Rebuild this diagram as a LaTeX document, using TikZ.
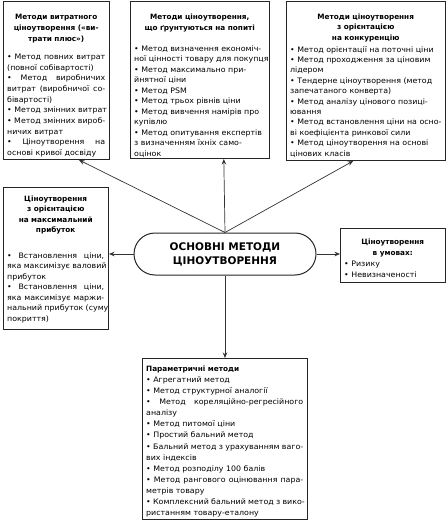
\documentclass[tikz,border=0pt]{standalone}
\usepackage{fontspec}
\setmainfont{DejaVu Sans}[FakeStretch=1.05]
\newfontfamily\hdfont{DejaVu Sans}
\usetikzlibrary{arrows.meta,shapes.misc,calc}
\newcommand\myj[1]{\par\hbox to\hsize{\spaceskip=0.3em plus 20em\xspaceskip=\spaceskip\rule{0pt}{7pt}#1}}
\newcommand\myl[1]{\par\hbox to\hsize{\rule{0pt}{7pt}#1\hss}}
\newcommand\myc[1]{\par\hbox to\hsize{\hss\rule{0pt}{7pt}#1\hss}}
\newcommand\myt[1]{{\hdfont\bfseries\fontsize{7.3}{10}\selectfont #1}}
\begin{document}
\begin{tikzpicture}[x=1pt,y=-1pt,
  frame/.style={draw=black!85, line width=1pt, fill=white, inner sep=0pt, anchor=north west},
  txt/.style={anchor=north west, inner sep=0pt,
    font=\fontsize{7.5}{#1}\selectfont,
    execute at begin node={\parindent=0pt\parskip=0pt\relax}},
  conn/.style={draw=black!80, line width=0.7pt, -{Stealth[length=5.5pt,width=4.5pt]}},
  core/.style={draw=black!85, line width=1pt, rounded rectangle, minimum width=186pt,
    minimum height=42pt, align=center, inner sep=2pt,
    font=\hdfont\bfseries\fontsize{10.5}{14}\selectfont}
]
\useasboundingbox (0,0) rectangle (447,521);

% frames
\node[frame, minimum width=106pt, minimum height=158pt] (b1) at (3,1) {};
\node[frame, minimum width=139pt, minimum height=157pt] (b2) at (130,1) {};
\node[frame, minimum width=159pt, minimum height=159pt] (b3) at (286,1) {};
\node[frame, minimum width=105pt, minimum height=142pt] (lb) at (3,187) {};
\node[frame, minimum width=105pt, minimum height=54pt] (rb) at (340,228) {};
\node[frame, minimum width=165pt, minimum height=161pt] (bb) at (142,358) {};
\node[core] (c) at (225,254) {ОСНОВНІ МЕТОДИ\\ЦІНОУТВОРЕННЯ};

% texts
\node[txt=10.7, text width=98pt] (t1) at (7,9) {%
\myc{\myt{Методи витратного}}
\myc{\myt{ціноутворення («ви-}}
\myc{\myt{трати плюс»)}}
\vspace{7.4pt}
\myj{• Метод повних витрат}
\myl{(повної собівартості)}
\myj{• Метод виробничих}
\myj{витрат (виробничої со-}
\myl{бівартості)}
\myl{• Метод змінних витрат}
\myj{• Метод змінних вироб-}
\myl{ничих витрат}
\myj{• Ціноутворення на}
\myl{основі кривої досвіду}};

\node[txt=10.5, text width=131pt] (t2) at (134,9) {%
\myc{\myt{Методи ціноутворення,}}
\vspace{0.5pt}
\myc{\myt{що ґрунтуються на попиті}}
\vspace{10pt}
\myl{• Метод визначення економіч-}
\myl{ної цінності товару для покупця}
\myl{• Метод максимально при-}
\myl{йнятної ціни}
\myl{• Метод PSM}
\myl{• Метод трьох рівнів ціни}
\myl{• Метод вивчення намірів про}
\myl{купівлю}
\myl{• Метод опитування експертів}
\myl{з визначенням їхніх само-}
\myl{оцінок}};

\node[txt=10.4, text width=151pt] (t3) at (290,9) {%
\myc{\myt{Методи ціноутворення}}
\myc{\myt{з орієнтацією}}
\myc{\myt{на конкуренцію}}
\vspace{1.3pt}
\myl{• Метод орієнтації на поточні ціни}
\myl{• Метод проходження за ціновим}
\myl{лідером}
\myl{• Тендерне ціноутворення (метод}
\myl{запечатаного конверта)}
\myl{• Метод аналізу цінового позиці-}
\myl{ювання}
\myl{• Метод встановлення ціни на осно-}
\myl{ві коефіцієнта ринкової сили}
\myl{• Метод ціноутворення на основі}
\myl{цінових класів}};

\node[txt=10.4, text width=97pt] (tl) at (7,191) {%
\myc{\myt{Ціноутворення}}
\myc{\myt{з орієнтацією}}
\myc{\myt{на максимальний}}
\myc{\myt{прибуток}}
\vspace{15.4pt}
\myj{• Встановлення ціни,}
\myj{яка максимізує валовий}
\myl{прибуток}
\myj{• Встановлення ціни,}
\myj{яка максимізує маржи-}
\myj{нальний прибуток (суму}
\myl{покриття)}};

\node[txt=11, text width=97pt] (tr) at (344,233) {%
\myc{\myt{Ціноутворення}}
\myc{\myt{в умовах:}}
\myl{• Ризику}
\myl{• Невизначеності}};

\node[txt=11.1, text width=157pt] (tb) at (146,360) {%
\myl{\myt{Параметричні методи}}
\myl{• Агрегатний метод}
\myl{• Метод структурної аналогії}
\myj{• Метод кореляційно-регресійного}
\myl{аналізу}
\myl{• Метод питомої ціни}
\myl{• Простий бальний метод}
\myj{• Бальний метод з урахуванням ваго-}
\myl{вих індексів}
\myl{• Метод розподілу 100 балів}
\myj{• Метод рангового оцінювання пара-}
\myl{метрів товару}
\myj{• Комплексний бальний метод з вико-}
\myl{ристанням товару-еталону}};

% connectors
\draw[conn] (c.north) -- ($(b1.south west)!0.71!(b1.south east)$);
\draw[conn] (c.north) -- ($(b2.south west)!0.67!(b2.south east)$);
\draw[conn] (c.north) -- ($(b3.south west)!0.42!(b3.south east)$);
\draw[conn] (c.west) -- (lb.east |- c.west);
\draw[conn] (c.east) -- (rb.west |- c.east);
\draw[conn] (c.south) -- (bb.north -| c.south);
\end{tikzpicture}
\end{document}
